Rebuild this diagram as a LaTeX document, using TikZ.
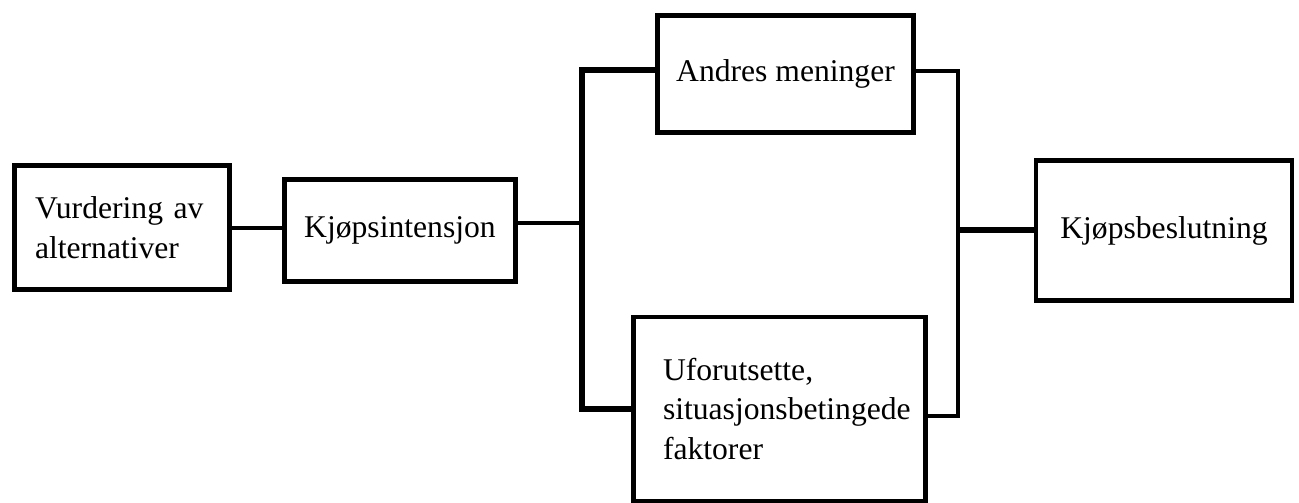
\documentclass[tikz,border=0pt]{standalone}
\usepackage{fontspec}
\setmainfont{Liberation Serif}
\usetikzlibrary{positioning}

\tikzset{
	boks/.style={draw, line width=2.6pt, inner sep=0pt, font=\fontsize{18}{22.7}\selectfont},
	linje/.style={line width=2.4pt},
	tykklinje/.style={line width=3.7pt}
}

\begin{document}
\begin{tikzpicture}[x=0.02cm, y=-0.02cm]
			\useasboundingbox	(0, 0) rectangle (1299, 503);
			\node	[boks, minimum width=215.5*0.02cm, minimum height=124*0.02cm,
				align=left, text width=174*0.02cm]	(vurd)	at	(122, 227.5)	{Vurdering av\\alternativer};
			\node	[boks, minimum width=231*0.02cm, minimum height=102*0.02cm]	(kint)	at	(400, 230.5)	{Kjøpsintensjon};
			\node	[boks, minimum width=255.5*0.02cm, minimum height=117*0.02cm]	(andre)	at	(785.5, 74)	{Andres meninger};
			\node	[boks, minimum width=292*0.02cm, minimum height=184*0.02cm,
				align=left, text width=233*0.02cm]	(ufor)	at	(779.5, 409)	{Uforutsette,\\situasjonsbetingede\\faktorer};
			\node	[boks, minimum width=256*0.02cm, minimum height=140.5*0.02cm]	(kbes)	at	(1164, 230.5)	{Kjøpsbeslutning};

			\coordinate	(vsplit)	at	(582, 223);
			\coordinate	(vtop)	at	(582, 70);
			\coordinate	(vbot)	at	(582, 409);
			\coordinate	(htop)	at	(958, 71);
			\coordinate	(hbot)	at	(958, 416);
			\coordinate	(hmid)	at	(958, 230);

			\draw	[linje]	(vurd.east |- 0, 228)	--	(kint.west |- 0, 228);
			\draw	[linje]	(kint.east |- vsplit)	--	(vsplit);
			\draw	[tykklinje]	(andre.west |- vtop)	--	(vtop)	--	(vbot)	--	(ufor.west |- vbot);
			\draw	[linje]	(andre.east |- htop)	--	(htop)	--	(hbot)	--	(ufor.east |- hbot);
			\draw	[tykklinje]	(hmid)	--	(kbes.west |- hmid);
		\end{tikzpicture}
\end{document}
